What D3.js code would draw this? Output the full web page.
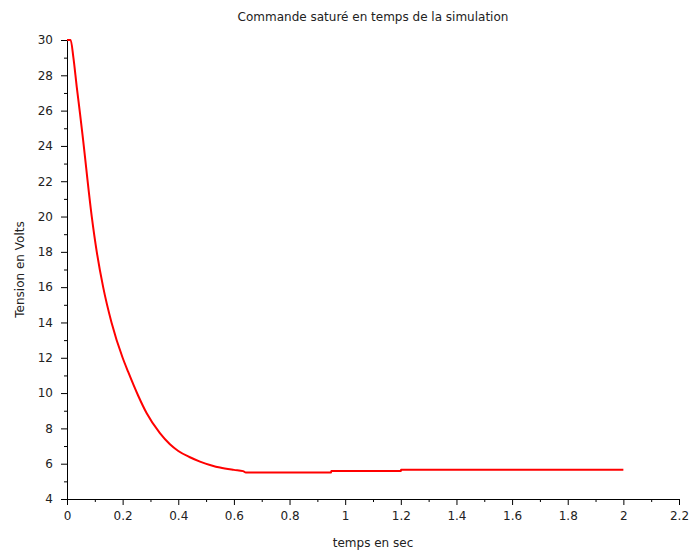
<!DOCTYPE html>
<html>
<head>
<meta charset="utf-8">
<script src="https://cdn.jsdelivr.net/npm/d3@7"></script>
<style>
  body { margin: 0; background: #fff; }
  svg text { font-family: "DejaVu Sans", sans-serif; fill: #222; }
</style>
</head>
<body>
<div id="chart"></div>
<script>
// time (s) and saturated command (V)
const temps = [0, 0.013, 0.023, 0.035, 0.047, 0.056, 0.089, 0.107, 0.13, 0.16, 0.20, 0.22, 0.256, 0.286, 0.334, 0.37, 0.40, 0.44, 0.478, 0.52, 0.55, 0.60, 0.633, 0.643, 0.949, 0.95, 1.2, 1.201, 2.0];
const tension = [30, 30, 29, 27.35, 25.8, 24.6, 20, 18, 16, 14, 12.0, 11.2, 9.85, 8.87, 7.73, 7.1, 6.72, 6.38, 6.12, 5.9, 5.78, 5.65, 5.58, 5.5, 5.5, 5.58, 5.58, 5.65, 5.65];
const xTicks = [0, 0.2, 0.4, 0.6, 0.8, 1, 1.2, 1.4, 1.6, 1.8, 2, 2.2];
const yTicks = [4, 6, 8, 10, 12, 14, 16, 18, 20, 22, 24, 26, 28, 30];

const W = 690, H = 554;
const margin = { top: 40, right: 11, bottom: 55, left: 67 };
const width = W - margin.left - margin.right;
const height = H - margin.top - margin.bottom;

const svg = d3.select("#chart").append("svg")
    .attr("width", W)
    .attr("height", H);

const g = svg.append("g")
    .attr("transform", `translate(${margin.left}, ${margin.top})`);

const x = d3.scaleLinear().domain([0, 2.2]).range([0, width]);
const y = d3.scaleLinear().domain([4, 30]).range([height, 0]);

// minor ticks (one between each major)
const xMinor = d3.range(0.1, 2.2, 0.2);
const yMinor = d3.range(5, 30, 2);

g.append("g")
    .attr("transform", `translate(0, ${height})`)
    .call(d3.axisBottom(x).tickValues(xMinor).tickSize(3).tickFormat(""))
    .call(a => a.select(".domain").remove());
g.append("g")
    .call(d3.axisLeft(y).tickValues(yMinor).tickSize(3).tickFormat(""))
    .call(a => a.select(".domain").remove());

const xAxis = g.append("g")
    .attr("transform", `translate(0, ${height})`)
    .call(d3.axisBottom(x).tickValues(xTicks).tickSize(6).tickSizeOuter(0).tickPadding(6).tickFormat(d3.format("~g")));
const yAxis = g.append("g")
    .call(d3.axisLeft(y).tickValues(yTicks).tickSize(6).tickSizeOuter(0).tickPadding(8).tickFormat(d3.format("d")));

[xAxis, yAxis].forEach(a => {
    a.selectAll("text").style("font-size", "12px");
    a.selectAll("line, path").attr("stroke", "#000");
});
g.selectAll(".tick line").attr("stroke", "#000");

const line = d3.line()
    .x((d, i) => x(temps[i]))
    .y(d => y(d))
    .curve(d3.curveMonotoneX);

g.append("path")
    .datum(tension)
    .attr("fill", "none")
    .attr("stroke", "#ff0000")
    .attr("stroke-width", 2)
    .attr("d", line);

svg.append("text")
    .attr("x", margin.left + width / 2)
    .attr("y", 21)
    .attr("text-anchor", "middle")
    .style("font-size", "12px")
    .text("Commande saturé en temps de la simulation");

svg.append("text")
    .attr("x", margin.left + width / 2)
    .attr("y", 547)
    .attr("text-anchor", "middle")
    .style("font-size", "12px")
    .text("temps en sec");

svg.append("text")
    .attr("transform", `translate(24, ${margin.top + height / 2}) rotate(-90)`)
    .attr("text-anchor", "middle")
    .style("font-size", "12px")
    .text("Tension en Volts");
</script>
</body>
</html>
